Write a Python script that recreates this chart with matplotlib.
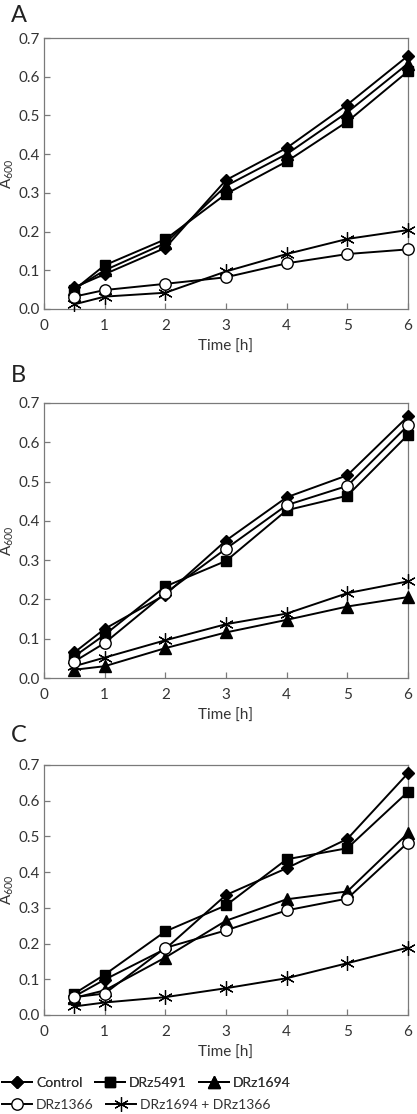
import matplotlib
matplotlib.use("Agg")
import matplotlib.pyplot as plt
from matplotlib.lines import Line2D

FONT = 'Lato'
plt.rcParams['font.family'] = [FONT, 'DejaVu Sans']
plt.rcParams['mathtext.fontset'] = 'custom'
plt.rcParams['mathtext.rm'] = FONT
plt.rcParams['mathtext.it'] = FONT

time = [0.5, 1, 2, 3, 4, 5, 6]
series_names = ["Control", "DRz5491", "DRz1694", "DRz1366", "DRz1694 + DRz1366"]
panel_labels = ["A", "B", "C"]
x_ticks = [0, 1, 2, 3, 4, 5, 6]
y_ticks = [0.0, 0.1, 0.2, 0.3, 0.4, 0.5, 0.6, 0.7]

# Panel A
a_control = [0.056, 0.090, 0.158, 0.333, 0.416, 0.528, 0.654]
a_drz5491 = [0.050, 0.113, 0.180, 0.297, 0.381, 0.484, 0.614]
a_drz1694 = [0.052, 0.100, 0.170, 0.318, 0.400, 0.508, 0.634]
a_drz1366 = [0.032, 0.049, 0.065, 0.082, 0.118, 0.142, 0.154]
a_combo = [0.012, 0.032, 0.042, 0.097, 0.142, 0.181, 0.204]

# Panel B
b_control = [0.065, 0.125, 0.212, 0.350, 0.460, 0.516, 0.666]
b_drz5491 = [0.055, 0.110, 0.233, 0.298, 0.427, 0.464, 0.619]
b_drz1694 = [0.021, 0.030, 0.076, 0.116, 0.148, 0.182, 0.206]
b_drz1366 = [0.042, 0.089, 0.216, 0.329, 0.440, 0.489, 0.643]
b_combo = [0.030, 0.052, 0.096, 0.137, 0.164, 0.216, 0.246]

# Panel C
c_control = [0.052, 0.099, 0.185, 0.336, 0.411, 0.493, 0.677]
c_drz5491 = [0.060, 0.113, 0.234, 0.307, 0.436, 0.467, 0.625]
c_drz1694 = [0.048, 0.069, 0.161, 0.264, 0.324, 0.346, 0.509]
c_drz1366 = [0.050, 0.060, 0.188, 0.237, 0.293, 0.326, 0.483]
c_combo = [0.024, 0.035, 0.050, 0.075, 0.103, 0.145, 0.189]

panels = [
    [a_control, a_drz5491, a_drz1694, a_drz1366, a_combo],
    [b_control, b_drz5491, b_drz1694, b_drz1366, b_combo],
    [c_control, c_drz5491, c_drz1694, c_drz1366, c_combo],
]

styles = [
    dict(marker='D', ms=6.5, mfc='black', mec='black', zorder=7),
    dict(marker='s', ms=7.2, mfc='black', mec='black', zorder=6),
    dict(marker='^', ms=8, mfc='black', mec='black', zorder=5),
    dict(marker='o', ms=8.2, mfc='white', mec='black', mew=1.0, zorder=8),
    dict(marker=(6, 2, 0), ms=10.5, mfc='black', mec='black', mew=0.9, zorder=3),
]

fig = plt.figure(figsize=(4.17, 11.14), dpi=100)
W, H = 417, 1114
axes_px = [(38, 309), (403, 678), (765, 1015)]
letter_y = [15, 375, 736]
spine_col = '#7a7a7a'
text_col = '#333333'
fs = 11

for i, (top, bot) in enumerate(axes_px):
    ax = fig.add_axes([44 / W, 1 - bot / H, (408 - 44) / W, (bot - top) / H])
    for vals, st in zip(panels[i], styles):
        ax.plot(time, vals, color='black', lw=1.4, clip_on=False, **st)
    ax.set_xlim(0, 6)
    ax.set_ylim(0, 0.7)
    ax.set_xticks(x_ticks)
    ax.set_yticks(y_ticks)
    ax.set_yticklabels([f"{v:.1f}" for v in y_ticks])
    ax.tick_params(direction='in', length=4.5, width=0.9, color=spine_col,
                   labelsize=fs, labelcolor=text_col)
    ax.tick_params(axis='x', pad=7)
    ax.tick_params(axis='y', pad=3)
    for s in ax.spines.values():
        s.set_color(spine_col)
        s.set_linewidth(0.9)
    ax.set_xlabel("Time [h]", fontsize=fs, color=text_col, labelpad=5)
    ax.set_ylabel(r"A$_{600}$", fontsize=fs, color=text_col, labelpad=2)
    fig.text(11 / W, 1 - letter_y[i] / H, panel_labels[i], fontsize=17,
             color='#222222', va='center', ha='left')

handles = []
for name, st in zip(series_names, styles):
    st2 = {k: v for k, v in st.items() if k != 'zorder'}
    handles.append(Line2D([0], [0], color='black', lw=1.4, **st2))

leg_kw = dict(loc='center left', frameon=False, fontsize=10, handlelength=2.15,
              handletextpad=0.3, columnspacing=0.9, labelcolor=text_col,
              borderaxespad=0, borderpad=0)
leg1 = fig.legend(handles[:3], series_names[:3], ncol=3,
                  bbox_to_anchor=(2 / W, 1 - 1083 / H), **leg_kw)
fig.add_artist(leg1)
leg2 = fig.legend(handles[3:], series_names[3:], ncol=2,
                  bbox_to_anchor=(2 / W, 1 - 1105 / H), **leg_kw)

fig.savefig("out.png", dpi=100)
